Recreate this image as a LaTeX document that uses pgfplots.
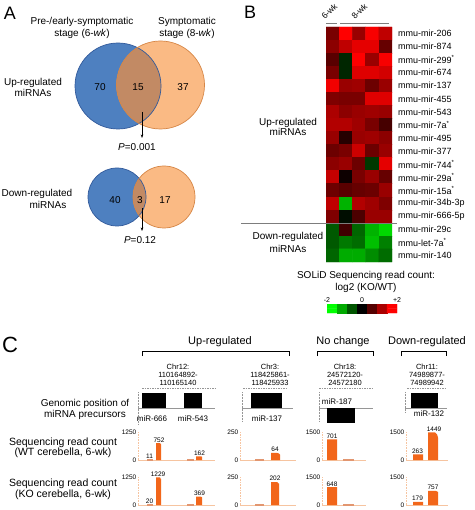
\documentclass[border=0pt]{standalone}
\usepackage{fontspec}
\setmainfont{Liberation Sans}
\usepackage{pgfplots}
\pgfplotsset{compat=1.18}
\usetikzlibrary{arrows.meta}
\newcommand\fs[1]{\fontsize{#1}{#1}\selectfont}
\newcommand\txt[4][]{\node[font=\fs{#3},anchor=base,inner sep=0pt,yshift={-0.36*#3pt},#1] at (#2) {#4};}
\definecolor{vblue}{RGB}{78,128,192}
\definecolor{vblueD}{RGB}{50,90,155}
\definecolor{vorange}{RGB}{250,186,132}
\definecolor{vorangeD}{RGB}{214,134,70}
\definecolor{vmix}{RGB}{194,138,100}
\definecolor{barorange}{RGB}{242,102,26}
\definecolor{tinyorange}{RGB}{226,150,112}
\definecolor{lorange}{RGB}{246,196,160}
\definecolor{sepgrey}{RGB}{125,125,125}
\definecolor{trackgrey}{RGB}{150,150,150}
\tikzset{vlab/.style={font=\fs{6.5}, inner sep=0.8pt, anchor=south}}
\pgfplotsset{
  barax/.style={scale only axis, height=28pt, ymin=0, axis lines*=left,
    x axis line style={draw=lorange, line width=0.6pt},
    y axis line style={draw=lorange, densely dotted, line width=0.6pt},
    xtick=\empty, major tick length=0pt,
    yticklabel style={font=\fs{6.5}, inner sep=1.5pt},
    /pgf/number format/assume math mode=true,
    /pgf/number format/1000 sep={},
    clip=false, anchor=south west},
  bar/.style={fill=barorange, draw=none},
  tiny/.style={fill=tinyorange, draw=tinyorange, line width=0.8pt},
  rgmap/.style={colormap={rg}{rgb255(0cm)=(0,255,0); rgb255(1cm)=(0,0,0); rgb255(2cm)=(255,0,0)},
    point meta min=-2, point meta max=2},
}
\begin{document}
\begin{tikzpicture}[x=1pt,y=-1pt]
\path[use as bounding box] (0pt,0pt) rectangle (474pt,-510pt);
%================ Panel A =================
\txt{10,13}{18}{A}
\txt{82,21}{10}{Pre-/early-symptomatic}
\txt{82,33}{10}{stage (6-\textit{wk})}
\txt{187,21}{10}{Symptomatic}
\txt{187,33}{10}{stage (8-\textit{wk})}
\txt{33,82}{10}{Up-regulated}
\txt{33,93}{10}{miRNAs}
% up venn
\fill[vblue] (118,86) circle[radius=43pt];
\fill[vorange] (160.5,85) circle[radius=44pt];
\begin{scope}\clip (118,86) circle[radius=43pt]; \fill[vmix] (160.5,85) circle[radius=44pt];\end{scope}
\draw[vblueD, line width=0.7pt] (118,86) circle[radius=43pt];
\draw[vorangeD, line width=0.7pt] (160.5,85) circle[radius=44pt];
\txt{100,87}{10}{70}
\txt{138,87}{10}{15}
\txt{183,87}{10}{37}
\draw[-{Stealth[length=3.5pt,width=2.6pt]}, line width=0.6pt] (142,112)--(142,138);
\txt{137,147}{10}{\textit{P}=0.001}
% down venn
\txt{37,193}{10}{Down-regulated}
\txt{48,205}{10}{miRNAs}
\fill[vblue] (117,197) circle[radius=29pt];
\fill[vorange] (164,197) circle[radius=31pt];
\begin{scope}\clip (117,197) circle[radius=29pt]; \fill[vmix] (164,197) circle[radius=31pt];\end{scope}
\draw[vblueD, line width=0.7pt] (117,197) circle[radius=29pt];
\draw[vorangeD, line width=0.7pt] (164,197) circle[radius=31pt];
\txt{115,200}{10}{40}
\txt{140,200}{10}{3}
\txt{165,200}{10}{17}
\draw[-{Stealth[length=3.5pt,width=2.6pt]}, line width=0.6pt] (142,208)--(142,231);
\txt{140,240}{10}{\textit{P}=0.12}
%================ Panel B =================
\txt{250,12}{18}{B}
\node[font=\fs{8.5}, rotate=45, anchor=base west, inner sep=0pt] at (325,20) {6-wk};
\node[font=\fs{8.5}, rotate=45, anchor=base west, inner sep=0pt] at (355,20) {8-wk};
\draw[sepgrey, line width=0.7pt] (326,23)--(337,23);
\draw[sepgrey, line width=0.7pt] (340,23)--(389,23);
\txt{288,122}{10}{Up-regulated}
\txt{288,132}{10}{miRNAs}
\txt{288,236}{10}{Down-regulated}
\txt{288,249}{10}{miRNAs}
\txt{366,275}{10}{SOLiD Sequencing read count:}
\txt{366,287}{10}{log2 (KO/WT)}
\begin{axis}[at={(326pt,-27pt)}, anchor=north west, scale only axis, width=66pt, height=235pt,
  rgmap, xmin=-0.5, xmax=4.5, ymin=-0.5, ymax=17.5, y dir=reverse,
  axis line style={draw=none}, major tick length=0pt, xtick=\empty,
  ytick={0,...,17}, yticklabel pos=right,
  yticklabels={mmu-mir-206,mmu-mir-874,mmu-mir-299\textsuperscript{*},mmu-mir-674,mmu-mir-137,
    mmu-mir-455,mmu-mir-543,mmu-mir-7a\textsuperscript{*},mmu-mir-495,mmu-mir-377,
    mmu-mir-744\textsuperscript{*},mmu-mir-29a\textsuperscript{*},mmu-mir-15a\textsuperscript{*},
    mmu-mir-34b-3p,mmu-mir-666-5p,mmu-mir-29c,mmu-let-7a\textsuperscript{*},mmu-mir-140},
  yticklabel style={font=\fs{9}, anchor=west, xshift=5pt, inner sep=1pt}]
\addplot[matrix plot*, mesh/cols=5, point meta=explicit] table[meta=c]{
x y c
0 0 0.95
1 0 2.0
2 0 1.2
3 0 1.95
4 0 1.5
0 1 1.1
1 1 1.5
2 1 1.8
3 1 1.8
4 1 0.8
0 2 0.7
1 2 -0.3
2 2 2.0
3 2 1.2
4 2 1.95
0 3 0.95
1 3 -0.3
2 3 1.75
3 3 1.75
4 3 1.65
0 4 1.9
1 4 1.2
2 4 1.25
3 4 0.85
4 4 1.2
0 5 1.0
1 5 0.95
2 5 0.95
3 5 1.75
4 5 1.75
0 6 1.35
1 6 1.1
2 6 1.2
3 6 1.25
4 6 1.2
0 7 1.4
1 7 1.4
2 7 1.25
3 7 0.95
4 7 0.55
0 8 1.2
1 8 0.3
2 8 1.2
3 8 1.25
4 8 1.1
0 9 0.85
1 9 0.95
2 9 1.6
3 9 0.85
4 9 1.2
0 10 1.1
1 10 1.2
2 10 0.85
3 10 -0.45
4 10 1.8
0 11 1.55
1 11 0.1
2 11 0.95
3 11 1.2
4 11 0.8
0 12 0.85
1 12 0.7
2 12 0.8
3 12 0.85
4 12 1.2
0 13 1.5
1 13 -1.4
2 13 1.4
3 13 1.25
4 13 1.0
0 14 1.0
1 14 -0.1
2 14 0.6
3 14 1.2
4 14 1.2
0 15 -0.7
1 15 0.5
2 15 -0.8
3 15 -1.4
4 15 -1.7
0 16 -0.7
1 16 -0.95
2 16 -0.85
3 16 -1.5
4 16 -1.0
0 17 -0.8
1 17 -1.35
2 17 -1.35
3 17 -1.1
4 17 -0.85
};
\end{axis}
\draw[sepgrey, line width=0.8pt] (241,223)--(397,223);
% colour key
\begin{axis}[at={(327pt,-304pt)}, anchor=north west, scale only axis, width=70pt, height=9pt,
  rgmap, xmin=-0.5, xmax=6.5, ymin=-0.5, ymax=1.5,
  axis line style={draw=none}, major tick length=0pt, ytick=\empty,
  xtick={-0.5,3,6.5}, xticklabels={-2,0,+2}, xticklabel pos=upper,
  xticklabel style={font=\fs{7}, inner sep=1pt}]
\addplot[matrix plot*, mesh/cols=7, point meta=explicit] table[meta=c]{
x y c
0 0 -2
1 0 -1.333
2 0 -0.667
3 0 0
4 0 0.667
5 0 1.333
6 0 2
0 1 -2
1 1 -1.333
2 1 -0.667
3 1 0
4 1 0.667
5 1 1.333
6 1 2
};
\end{axis}
%================ Panel C =================
\txt{10,345}{22}{C}
\txt{220,341}{11}{Up-regulated}
\txt{343,341}{11}{No change}
\txt{427,341}{11}{Down-regulated}
\draw[line width=0.8pt] (142,356)--(142,351.5)--(289,351.5)--(289,356);
\draw[line width=0.8pt] (317,356)--(317,351.5)--(373,351.5)--(373,356);
\draw[line width=0.8pt] (401,356)--(401,351.5)--(446,351.5)--(446,356);
\txt{178,367}{7.5}{Chr12:}
\txt{178,375}{7.5}{110164892-}
\txt{178,382.5}{7.5}{110165140}
\txt{270,367}{7.5}{Chr3:}
\txt{270,375}{7.5}{118425861-}
\txt{270,382.5}{7.5}{118425933}
\txt{345,367}{7.5}{Chr18:}
\txt{345,375}{7.5}{24572120-}
\txt{345,382.5}{7.5}{24572180}
\txt{427,367}{7.5}{Chr11:}
\txt{427,375}{7.5}{74989877-}
\txt{427,382.5}{7.5}{74989942}
\draw[trackgrey, dash pattern=on 1.5pt off 1pt, line width=0.5pt] (142,388)--(215,388);
\draw[trackgrey, dash pattern=on 1.5pt off 1pt, line width=0.5pt] (243,388)--(288,388);
\draw[trackgrey, dash pattern=on 1.5pt off 1pt, line width=0.5pt] (319,388)--(372,388);
\draw[trackgrey, dash pattern=on 1.5pt off 1pt, line width=0.5pt] (407,388)--(445,388);
% genomic tracks
\txt{85,403}{10}{Genomic position of}
\txt{85,414}{10}{miRNA precursors}
\draw[trackgrey, line width=0.4pt] (138,408)--(215,408);
\draw[trackgrey, line width=0.4pt] (242,408)--(293,408);
\draw[trackgrey, line width=0.4pt] (319,408)--(373,408);
\draw[trackgrey, line width=0.4pt] (405,408)--(447,408);
\draw[trackgrey, densely dotted, line width=0.5pt] (138,392)--(138,425);
\draw[trackgrey, densely dotted, line width=0.5pt] (242,392)--(242,421);
\draw[trackgrey, densely dotted, line width=0.5pt] (319,392)--(319,422);
\draw[trackgrey, densely dotted, line width=0.5pt] (405,392)--(405,412);
\fill[black] (142,393) rectangle (166,408);
\fill[black] (184,393) rectangle (202,408);
\fill[black] (251,393) rectangle (282,408);
\fill[black] (327,408) rectangle (355,423);
\fill[black] (411,393) rectangle (438,408);
\txt{152,419}{8}{miR-666}
\txt{193,419}{8}{miR-543}
\txt{267,419}{8}{miR-137}
\txt{337,402}{8}{miR-187}
\txt{429,414}{8}{miR-132}
\txt{63,442}{10.5}{Sequencing read count}
\txt{63,452}{10.5}{(WT cerebella, 6-wk)}
\txt{63,483}{10.5}{Sequencing read count}
\txt{63,494}{10.5}{(KO cerebella, 6-wk)}
% ---- WT row ----
\begin{axis}[barax, at={(138pt,-460pt)}, width=77pt, xmin=0, xmax=77, ymax=1250, ytick={0,1250}]
\addplot[tiny] coordinates {(9,0) (9,11) (14,11) (14,0)} \closedcycle;
\addplot[bar] coordinates {(18,0) (18,752) (22,752) (23,700) (23,0)} \closedcycle;
\addplot[tiny] coordinates {(49,0) (49,8) (55,8) (55,0)} \closedcycle;
\addplot[bar] coordinates {(58,0) (58,162) (63,162) (64,145) (64,0)} \closedcycle;
\node[vlab] at (axis cs:11.5,11) {11};
\node[vlab] at (axis cs:21,752) {752};
\node[vlab] at (axis cs:61.5,162) {162};
\end{axis}
\begin{axis}[barax, at={(240pt,-460pt)}, width=56pt, xmin=0, xmax=56, ymax=250, ytick={0,250}]
\addplot[tiny] coordinates {(15,0) (15,3) (23,3) (23,0)} \closedcycle;
\addplot[bar] coordinates {(31,0) (31,64) (37,64) (39,58) (40,48) (40,0)} \closedcycle;
\node[vlab] at (axis cs:35,64) {64};
\end{axis}
\begin{axis}[barax, at={(322pt,-460pt)}, width=44pt, xmin=0, xmax=44, ymax=1500, ytick={0,1500}]
\addplot[bar] coordinates {(5,0) (5,1100) (15,1100) (15,0)} \closedcycle;
\addplot[tiny] coordinates {(21,0) (21,15) (31,15) (31,0)} \closedcycle;
\node[vlab] at (axis cs:10,1100) {701};
\end{axis}
\begin{axis}[barax, at={(406pt,-460pt)}, width=42pt, xmin=0, xmax=42, ymax=1500, ytick={0,1500}]
\addplot[bar] coordinates {(7,0) (7,300) (17,300) (17,0)} \closedcycle;
\addplot[bar] coordinates {(22,0) (22,1480) (29,1480) (31,1380) (32,1200) (32,0)} \closedcycle;
\node[vlab] at (axis cs:11.5,300) {263};
\node[vlab] at (axis cs:28,1480) {1449};
\end{axis}
% ---- KO row ----
\begin{axis}[barax, at={(138pt,-505pt)}, width=77pt, xmin=0, xmax=77, ymax=1250, ytick={0,1250}]
\addplot[tiny] coordinates {(9,0) (9,20) (14,20) (14,0)} \closedcycle;
\addplot[bar] coordinates {(18,0) (18,1229) (22,1229) (23,1150) (23,0)} \closedcycle;
\addplot[tiny] coordinates {(49,0) (49,10) (55,10) (55,0)} \closedcycle;
\addplot[bar] coordinates {(58,0) (58,369) (63,369) (64,340) (64,0)} \closedcycle;
\node[vlab] at (axis cs:11.5,20) {20};
\node[vlab] at (axis cs:20,1229) {1229};
\node[vlab] at (axis cs:61.5,369) {369};
\end{axis}
\begin{axis}[barax, at={(240pt,-505pt)}, width=56pt, xmin=0, xmax=56, ymax=250, ytick={0,250}]
\addplot[tiny] coordinates {(15,0) (15,3) (23,3) (23,0)} \closedcycle;
\addplot[bar] coordinates {(31,0) (31,205) (37,205) (39,190) (39,0)} \closedcycle;
\node[vlab] at (axis cs:35,205) {202};
\end{axis}
\begin{axis}[barax, at={(322pt,-505pt)}, width=44pt, xmin=0, xmax=44, ymax=1500, ytick={0,1500}]
\addplot[bar] coordinates {(5,0) (5,960) (15,960) (15,0)} \closedcycle;
\addplot[tiny] coordinates {(21,0) (21,15) (31,15) (31,0)} \closedcycle;
\node[vlab] at (axis cs:10,960) {648};
\end{axis}
\begin{axis}[barax, at={(406pt,-505pt)}, width=42pt, xmin=0, xmax=42, ymax=1500, ytick={0,1500}]
\addplot[bar] coordinates {(7,0) (7,170) (17,170) (17,0)} \closedcycle;
\addplot[bar] coordinates {(22,0) (22,757) (30,757) (32,700) (32,0)} \closedcycle;
\node[vlab] at (axis cs:11.5,170) {179};
\node[vlab] at (axis cs:27,757) {757};
\end{axis}
\end{tikzpicture}
\end{document}
